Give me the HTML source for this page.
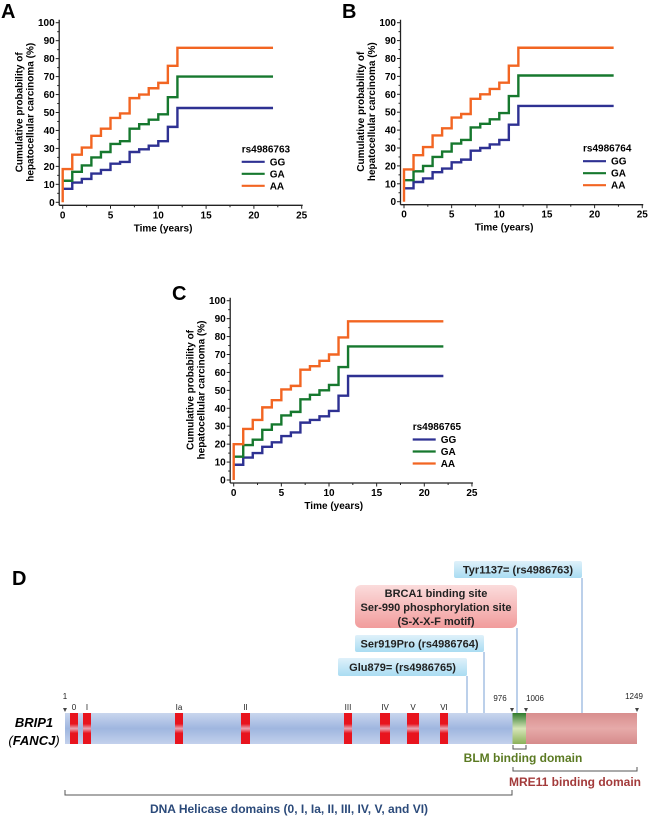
<!DOCTYPE html>
<html><head><meta charset="utf-8">
<style>
html,body{margin:0;padding:0;background:#fff;}
svg{display:block;font-family:"Liberation Sans",sans-serif;}
</style></head>
<body>
<svg id="fig" width="650" height="825" viewBox="0 0 650 825" xmlns="http://www.w3.org/2000/svg">
<defs>
<linearGradient id="gBlue" x1="0" y1="0" x2="0" y2="1">
<stop offset="0" stop-color="#c9d6ee"/><stop offset="0.5" stop-color="#9fb6df"/><stop offset="1" stop-color="#c3d1ec"/></linearGradient>
<linearGradient id="gRed" x1="0" y1="0" x2="0" y2="1">
<stop offset="0" stop-color="#e8141e"/><stop offset="0.35" stop-color="#e8141e"/><stop offset="0.5" stop-color="#e7a6b4"/><stop offset="0.65" stop-color="#e8141e"/><stop offset="1" stop-color="#e8141e"/></linearGradient>
<linearGradient id="gGreen" x1="0" y1="0" x2="0" y2="1">
<stop offset="0" stop-color="#2f7a2c"/><stop offset="0.5" stop-color="#d7e6b8"/><stop offset="1" stop-color="#8cb15a"/></linearGradient>
<linearGradient id="gPink" x1="0" y1="0" x2="0" y2="1">
<stop offset="0" stop-color="#d88e8e"/><stop offset="0.5" stop-color="#e6aaa9"/><stop offset="1" stop-color="#d68b8b"/></linearGradient>
<linearGradient id="gBox" x1="0" y1="0" x2="0" y2="1">
<stop offset="0" stop-color="#dff1fa"/><stop offset="1" stop-color="#a9dcf2"/></linearGradient>
<linearGradient id="gBoxR" x1="0" y1="0" x2="0" y2="1">
<stop offset="0" stop-color="#fbdcdc"/><stop offset="1" stop-color="#f19c9c"/></linearGradient>
</defs>
<g id="charts"></g>

<!-- Panel D -->
<g font-size="11" font-weight="bold">
<text x="12" y="585" font-size="20">D</text>
<rect x="65" y="713" width="448" height="31" fill="url(#gBlue)"/>
<rect x="512.5" y="713" width="13.5" height="31" fill="url(#gGreen)"/>
<rect x="526" y="713" width="111" height="31" fill="url(#gPink)"/>
<g>
<rect x="70" y="713" width="8" height="31" fill="url(#gRed)"/>
<rect x="83" y="713" width="8" height="31" fill="url(#gRed)"/>
<rect x="175" y="713" width="8" height="31" fill="url(#gRed)"/>
<rect x="241" y="713" width="9" height="31" fill="url(#gRed)"/>
<rect x="344" y="713" width="8" height="31" fill="url(#gRed)"/>
<rect x="380" y="713" width="10" height="31" fill="url(#gRed)"/>
<rect x="407" y="713" width="12" height="31" fill="url(#gRed)"/>
<rect x="440" y="713" width="8" height="31" fill="url(#gRed)"/>
</g>
<g font-size="8" font-weight="normal" fill="#222" text-anchor="middle">
<text x="74" y="710">0</text><text x="87" y="710">I</text><text x="179" y="710">Ia</text><text x="245.5" y="710">II</text>
<text x="348" y="710">III</text><text x="385" y="710">IV</text><text x="413" y="710">V</text><text x="444" y="710">VI</text>
<text x="65" y="699">1</text><text x="500" y="701">976</text><text x="535" y="701">1006</text><text x="634" y="699">1249</text>
</g>
<g fill="#444"><path d="M63,708 h4 l-2,4z"/><path d="M510,708 h4 l-2,4z"/><path d="M524,708 h4 l-2,4z"/><path d="M635,708 h4 l-2,4z"/></g>
<text x="34" y="727" text-anchor="middle" font-size="13" font-style="italic">BRIP1</text>
<text x="34" y="745" text-anchor="middle" font-size="13" font-style="italic" font-weight="normal">(<tspan font-weight="bold">FANCJ</tspan>)</text>
<g stroke="#8fb0dc" stroke-width="1.2">
<line x1="582" y1="578" x2="582" y2="713"/><line x1="517" y1="628" x2="517" y2="713"/>
<line x1="484" y1="652" x2="484" y2="713"/><line x1="467" y1="676" x2="467" y2="713"/>
</g>
<rect x="454" y="561" width="128" height="17" rx="2" fill="url(#gBox)"/>
<text x="518" y="573.5" text-anchor="middle" fill="#222">Tyr1137= (rs4986763)</text>
<rect x="355" y="585" width="162" height="43" rx="6" fill="url(#gBoxR)"/>
<text x="436" y="597" text-anchor="middle" fill="#222">BRCA1 binding site</text>
<text x="436" y="611" text-anchor="middle" fill="#222">Ser-990 phosphorylation site</text>
<text x="436" y="625" text-anchor="middle" fill="#222">(S-X-X-F motif)</text>
<rect x="355" y="635" width="129" height="17" rx="2" fill="url(#gBox)"/>
<text x="419.5" y="647.5" text-anchor="middle" fill="#222">Ser919Pro (rs4986764)</text>
<rect x="338" y="658" width="129" height="18" rx="2" fill="url(#gBox)"/>
<text x="402.5" y="671" text-anchor="middle" fill="#222">Glu879= (rs4986765)</text>
<g fill="none" stroke="#555" stroke-width="1">
<path d="M513,745 v4 h13 v-4"/><path d="M513,767 v4 h124 v-4"/><path d="M65,790 v5 h447 v-5"/>
</g>
<text x="523" y="762" text-anchor="middle" font-size="12" fill="#5b7a22">BLM binding domain</text>
<text x="575" y="786" text-anchor="middle" font-size="12" fill="#a33a3a">MRE11 binding domain</text>
<text x="289" y="813" text-anchor="middle" font-size="12" fill="#2b4a7a">DNA Helicase domains (0, I, Ia, II, III, IV, V, and VI)</text>
</g>
</svg>
<script>
const years = [0,1,2,3,4,5,6,7,8,9,10,11,12];
const endYear = 22;
const xTicks = [0,5,10,15,20,25];
const yTicks = [0,10,20,30,40,50,60,70,80,90,100];
const genotypes = ["GG","GA","AA"];
const snpA = "rs4986763";
const snpB = "rs4986764";
const snpC = "rs4986765";
const aGG = [7.5,11,13,16,18,21.5,22.5,28,29.5,31.5,34,42,52.5];
const aGA = [12,17,20.5,25,28,32.5,34,41,43.5,46,49,58.5,70];
const aAA = [18.5,26.5,30.5,37,41,47,49.5,58,60,63.5,66.5,76,86];
const bGG = [7.5,11,13,16.5,18.5,22,23.5,28.5,30,32,34.5,43,53.5];
const bGA = [12,17,20,25,28,32.5,34.5,41.5,43.5,46,49.5,59,70.5];
const bAA = [18,26,30.5,37,41,47,49,57.5,60,63,66.5,76,86];
const cGG = [8.5,12.5,15,18.5,21,24.5,26.5,32,33.5,35.5,38.5,47,58];
const cGA = [13,19.5,22.5,28,31,36,38,45,47.5,50,53,63,74.5];
const cAA = [20,28.5,33.5,40.5,44.5,50.5,52.5,61.5,63.5,66.5,70,79.5,88.5];

const colors = {GG:"#2e3192", GA:"#16782e", AA:"#f26522"};
const NS = "http://www.w3.org/2000/svg";
const root = document.getElementById("charts");
function mk(tag, attrs, parent){
  const e = document.createElementNS(NS, tag);
  for (const k in attrs) e.setAttribute(k, attrs[k]);
  parent.appendChild(e);
  return e;
}
function panel(letter, cfg, snp, series){
  const g = mk("g", {}, root);
  
  
  const X = v => cfg.ox + v * cfg.xs;
  const Y = v => cfg.oy - v * cfg.ys;
  const lab = mk("text", {x: cfg.lx, y: cfg.ly, "font-size": 20, "font-weight": "bold"}, g);
  lab.textContent = letter;
  
  
  const axX = cfg.ox - 3.5, axY = cfg.oy + 3;
  const ya = mk("line", {x1: axX, y1: Y(100) - 3, x2: axX, y2: axY, stroke: "#222", "stroke-width": 1.3}, g);
  
  
  const xa = mk("line", {x1: axX, y1: axY, x2: X(25) + 1, y2: axY, stroke: "#222", "stroke-width": 1.3}, g);
  
  
  for (let v = 0; v <= 100; v += 5) {
    mk("line", {x1: axX - (v % 10 ? 2 : 3.5), y1: Y(v), x2: axX, y2: Y(v), stroke: "#222", "stroke-width": 1}, g);
  }
  yTicks.forEach(v => {
    const t = mk("text", {x: axX - 4.5, y: Y(v) + 3.5, "font-size": 10, "font-weight": "bold", "text-anchor": "end"}, g);
    t.textContent = v;
    
    
  });
  for (let v = 0; v <= 25; v += 2.5) {
    mk("line", {x1: X(v), y1: axY, x2: X(v), y2: axY + (v % 5 ? 2 : 3.5), stroke: "#222", "stroke-width": 1}, g);
  }
  xTicks.forEach(v => {
    const t = mk("text", {x: X(v), y: axY + 13, "font-size": 10, "font-weight": "bold", "text-anchor": "middle"}, g);
    t.textContent = v;
    
    
  });
  const xt = mk("text", {x: X(10.5), y: axY + 26, "font-size": 10, "font-weight": "bold", "text-anchor": "middle"}, g);
  xt.textContent = "Time (years)";
  
  
  const yt = mk("text", {transform: "translate(" + (cfg.ox - 40) + "," + (cfg.oy - 90) + ") rotate(-90)", "font-size": 10, "font-weight": "bold", "text-anchor": "middle"}, g);
  
  
  const s1 = mk("tspan", {x: 0, y: 0}, yt); s1.textContent = "Cumulative probability of";
  const s2 = mk("tspan", {x: 0, y: 11}, yt); s2.textContent = "hepatocellular carcinoma (%)";
  genotypes.forEach((gt, i) => {
    const vals = series[i];
    let d = "M" + X(0) + "," + Y(gt === "AA" ? 0 : vals[0]);
    for (let k = 0; k < years.length; k++) {
      d += " V" + Y(vals[k]);
      const nx = k + 1 < years.length ? years[k + 1] : endYear;
      d += " H" + X(nx);
    }
    const p = mk("path", {d: d, fill: "none", stroke: colors[gt], "stroke-width": 2.4}, g);
    
    
  });
  const lx = cfg.ox + 179, ly = cfg.oy - 50;
  const lt = mk("text", {x: lx, y: ly, "font-size": 10, "font-weight": "bold"}, g);
  lt.textContent = snp;
  
  
  genotypes.forEach((gt, i) => {
    const yy = ly + 13 + i * 12;
    const le = mk("g", {}, g);
    
    
    mk("line", {x1: lx, y1: yy - 3.5, x2: lx + 23, y2: yy - 3.5, stroke: colors[gt], "stroke-width": 2.2}, le);
    const tt = mk("text", {x: lx + 28, y: yy, "font-size": 10, "font-weight": "bold"}, le);
    tt.textContent = gt;
  });
}
panel("A", {ox: 62.7, oy: 202.3, xs: 9.56, ys: 1.796, lx: 1, ly: 18}, snpA, [aGG, aGA, aAA]);
panel("B", {ox: 404, oy: 201.7, xs: 9.53, ys: 1.79, lx: 342, ly: 18}, snpB, [bGG, bGA, bAA]);
panel("C", {ox: 233.7, oy: 480, xs: 9.53, ys: 1.793, lx: 172, ly: 300}, snpC, [cGG, cGA, cAA]);
</script>
</body></html>
